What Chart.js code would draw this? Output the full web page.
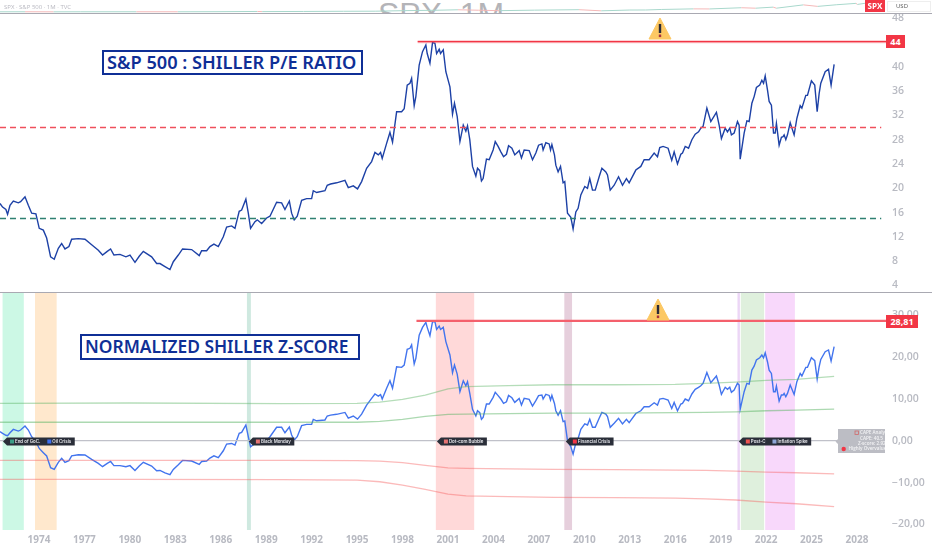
<!DOCTYPE html>
<html lang="en">
<head>
<meta charset="UTF-8">
<title>S&amp;P 500 Shiller P/E</title>
<script src="https://cdn.jsdelivr.net/npm/chart.js@4"></script>
<style>
    html, body { margin: 0; padding: 0; background: #fff; overflow: hidden; }
    #page { position: relative; width: 932px; height: 550px; font-family: "Open Sans", sans-serif; }
    canvas { position: absolute; left: 0; }
    .sep { position: absolute; left: 0; width: 932px; height: 1px; background: #a9a9b2; }
    .title { position: absolute; box-sizing: border-box; border: 2px solid #0f2f96; color: #0f2f96; background: #fff;
             font-family: "Noto Sans", sans-serif; font-weight: 600; white-space: nowrap; padding-left: 3px; }
    .price { position: absolute; background: #f23645; color: #fff; font-weight: 700; text-align: center; }
    .warn { position: absolute; width: 24px; height: 22px; }
    #symbol { position: absolute; left: 4px; top: 3px; font-size: 6px; color: #b8b8c0; white-space: nowrap; }
    #watermark { position: absolute; left: 378px; top: 0; width: 135px; height: 13px; overflow: hidden; }
    #watermark span { position: absolute; left: 0; top: -4px; font-family: "Liberation Sans"; font-size: 32px; line-height: 36px; color: #b4b4b8; white-space: nowrap; }
    #usd { position: absolute; left: 887px; top: 1px; width: 44px; height: 11px; box-sizing: border-box; border: 1px solid #eee; font-size: 6px; line-height: 9px; padding-left: 8px; color: #555; }
</style>
</head>
<body>
<div id="page">
    <div id="watermark"><span>SPX, 1M</span></div>
    <canvas id="priceChart" width="932" height="13" style="top:0"></canvas>
    <canvas id="capeChart" width="932" height="278" style="top:14px"></canvas>
    <canvas id="zChart" width="932" height="258" style="top:292px"></canvas>

    <div class="sep" style="top:13px"></div>
    <div class="sep" style="top:292px"></div>

    <div id="symbol">SPX · S&amp;P 500 · 1M · TVC</div>
    <div class="price" style="left:865px;top:0;width:20px;height:12px;font-size:8px;line-height:12px">SPX</div>
    <div id="usd">USD</div>

    <div class="title" style="left:102px;top:50px;width:261px;height:25px;font-size:18.2px;line-height:20px">S&amp;P 500 : SHILLER P/E RATIO</div>
    <div class="title" style="left:80px;top:334px;width:280px;height:26px;font-size:17.4px;line-height:21px">NORMALIZED SHILLER Z-SCORE</div>

    <div class="price" style="left:886px;top:35px;width:19px;height:13px;font-size:9px;line-height:13px">44</div>
    <div class="price" style="left:886px;top:315px;width:32px;height:13px;font-size:9px;line-height:13px">28,81</div>

    <svg class="warn" style="left:648px;top:18px" viewBox="0 0 24 22"><path d="M12 0 L23 21 L1 21 Z" fill="#fcc864" stroke="#fcc864" stroke-linejoin="round"/><rect x="10.8" y="6" width="2.4" height="9" fill="#2a2a38"/><rect x="10.8" y="16.5" width="2.4" height="2.6" fill="#a8323c"/></svg>
    <svg class="warn" style="left:646px;top:299px" viewBox="0 0 24 22"><path d="M12 0 L23 21 L1 21 Z" fill="#fcc864" stroke="#fcc864" stroke-linejoin="round"/><rect x="10.8" y="6" width="2.4" height="9" fill="#2a2a38"/><rect x="10.8" y="16.5" width="2.4" height="2.6" fill="#a8323c"/></svg>
</div>

<script>
    // time positions (decimal years)
    var years = [
        1971.43,1971.60,1971.82,1971.93,1972.09,1972.31,1972.64,1972.79,1973.08,1973.30,1973.52,1973.80,1974.02,1974.29,1974.51,1974.77,1975.01,1975.28,1975.50,1975.72,1975.98,
        1976.16,1976.60,1977.04,1977.48,1977.92,1978.20,1978.51,1978.73,1978.95,1979.35,1979.74,1980.01,1980.34,1980.62,1980.89,1981.44,1981.77,1981.99,1982.32,1982.65,1982.87,
        1983.20,1983.48,1984.08,1984.58,1984.74,1985.07,1985.29,1985.55,1985.84,1986.17,1986.39,1986.72,1986.94,1987.22,1987.38,1987.66,1987.82,1987.97,1988.26,1988.41,1988.70,
        1989.03,1989.25,1989.69,1990.02,1990.24,1990.53,1990.68,1990.85,1991.05,1991.34,1991.67,1992.00,1992.11,1992.33,1992.88,1993.03,1993.25,1993.65,1994.20,1994.42,1994.75,
        1995.03,1995.30,1995.63,1995.96,1996.18,1996.40,1996.55,1996.66,1996.95,1997.17,1997.34,1997.61,1997.94,1998.11,1998.31,1998.49,1998.60,1998.77,1998.88,1999.10,1999.32,
        1999.54,1999.63,1999.81,1999.98,2000.14,2000.25,2000.42,2000.51,2000.69,2000.86,2001.13,2001.30,2001.43,2001.61,2001.79,2002.01,2002.18,
        2002.29,2002.44,2002.62,2002.84,2002.95,2003.10,2003.21,2003.32,2003.54,2003.72,2003.98,2004.12,2004.31,2004.49,2004.67,2004.86,2005.00,2005.22,2005.41,2005.70,2005.85,
        2006.03,2006.36,2006.58,2006.80,2006.98,2007.20,2007.28,2007.46,2007.68,2007.77,2007.86,2008.03,2008.12,2008.27,2008.43,2008.60,2008.71,2008.89,2009.11,2009.26,2009.44,
        2009.59,2009.77,2010.03,2010.21,2010.36,2010.54,2010.72,2010.98,2011.16,2011.42,2011.53,2011.71,2011.97,2012.26,2012.52,2012.78,2012.96,2013.40,2013.73,2013.95,2014.28,
        2014.61,2014.83,2014.98,2015.20,2015.53,2015.77,2015.93,2016.15,2016.37,2016.48,2016.66,2016.88,2017.10,2017.32,2017.54,2017.69,2017.84,2018.09,2018.35,2018.72,2018.90,
        2019.05,2019.30,2019.45,2019.60,2019.71,2019.89,2020.11,2020.22,2020.29,2020.55,2020.73,2020.88,2021.06,2021.21,2021.36,2021.58,2021.72,2021.83,2021.94,2022.09,2022.20,
        2022.35,2022.49,2022.60,2022.68,2022.86,2023.01,2023.12,2023.19,2023.30,2023.41,2023.59,2023.85,2024.03,2024.25,2024.36,2024.62,2024.73,2024.99,2025.21,2025.37,2025.50,
        2025.61,2025.90,2026.12,2026.29,2026.49
    ];

    // Shiller P/E
    var cape = [
        17.5,16.9,16.5,15.7,17.2,17.9,17.6,17.8,18.6,17.2,15.9,15.8,13.4,13.1,11.8,8.7,8.3,10.1,10.9,10.0,10.4,
        11.6,11.7,11.6,10.7,9.8,9.0,9.6,10.0,9.0,9.1,8.7,9.0,7.8,8.8,9.6,8.7,7.6,7.6,7.1,6.6,7.9,
        9.0,10.0,9.9,8.9,9.7,9.7,10.4,10.8,10.4,12.0,13.6,13.8,13.4,16.2,16.4,18.2,15.9,13.4,14.5,14.8,14.2,
        15.1,15.4,17.7,17.6,16.5,17.9,15.9,14.8,15.4,18.0,18.3,18.3,19.6,19.3,19.6,20.5,20.7,20.9,21.3,20.1,20.4,
        19.9,21.1,23.3,24.4,25.9,25.5,25.9,24.9,27.4,29.2,27.6,32.6,32.6,33.1,37.0,37.3,38.1,33.6,35.1,40.3,42.5,
        43.6,42.2,40.6,44.0,43.9,42.2,42.9,42.2,42.8,39.2,36.7,32.2,34.0,31.8,27.7,30.4,29.4,
        30.3,28.0,23.6,22.0,23.3,22.9,21.2,21.6,24.8,24.7,26.3,27.7,26.9,26.0,25.2,25.6,27.0,26.6,25.5,26.2,25.0,
        26.3,26.2,24.7,25.8,27.1,27.3,26.3,27.5,27.3,26.3,27.2,25.5,23.8,22.7,23.6,20.9,21.1,15.9,15.2,13.3,16.1,
        16.7,18.9,20.3,20.0,21.6,19.7,19.7,21.9,23.3,22.7,22.2,19.7,20.5,21.9,20.5,21.6,20.9,23.0,23.6,24.7,24.7,
        25.8,25.2,26.7,26.9,26.6,24.6,26.0,24.0,25.6,25.8,26.9,26.6,28.0,28.9,29.3,29.9,30.2,33.2,31.0,32.5,30.4,
        28.2,29.9,29.3,29.9,28.8,29.1,31.0,30.4,24.8,29.1,31.1,31.0,34.0,35.1,36.6,37.0,37.8,37.3,38.5,36.2,34.3,
        33.7,29.1,29.1,30.7,27.1,28.4,28.5,28.8,28.0,28.8,30.8,28.8,31.5,33.6,33.2,35.3,35.3,37.7,37.0,32.6,35.6,
        37.3,39.2,39.6,37.0,40.4
    ];

    // normalized z-score
    var zscore = [
        2.15,1.75,1.3,1.2,1.9,2.7,2.3,2.55,3.5,2.55,0.95,-0.25,-1.85,-2.85,-3.65,-6.45,-6.85,-5.15,-4.2,-5.15,-4.75,
        -3.6,-3.35,-3.4,-4.45,-5.4,-6.2,-5.4,-4.95,-5.95,-5.95,-6.2,-5.95,-7.1,-6.05,-5.15,-6.05,-7.15,-7.1,-7.7,-8.1,-6.85,
        -5.75,-4.7,-4.85,-5.65,-4.95,-4.85,-4.15,-3.6,-4.05,-2.4,-0.8,-0.65,-1.05,1.75,2.0,3.75,0.95,-1.45,-0.65,-0.3,-0.8,
        0,0.95,3.2,3.2,1.9,3.25,1.35,0.15,0.95,3.6,3.9,3.9,5.1,4.75,4.95,5.9,6.1,6.3,6.75,5.4,5.9,
        5.15,6.35,8.5,10.1,11.15,10.65,11.0,9.95,12.5,14.3,12.5,17.65,17.5,18.05,21.8,22.05,22.85,18.3,19.65,25.2,27.05,
        28.25,27.05,25.05,28.4,28.4,26.55,27.35,26.55,27.05,23.65,20.45,16.25,18.05,15.9,11.7,14.3,13.1,
        14.1,11.3,7.5,5.9,7.15,6.7,5.1,5.55,8.75,8.75,10.35,11.55,10.75,9.95,8.9,9.3,10.8,10.25,9.15,10.1,8.5,
        10.1,9.85,8.25,9.55,10.75,10.9,9.95,11.05,10.8,9.7,10.8,8.9,7.15,6.1,7.15,4.55,4.7,0,-1.45,-3.2,-0.5,
        0.55,2.7,4.0,3.75,5.1,3.2,3.2,5.35,6.75,6.35,5.75,3.2,4.15,5.35,4.0,5.1,4.3,6.5,7.15,8.1,8.1,
        9.05,8.5,9.95,10.1,9.7,7.7,9.15,7.15,8.75,8.9,9.95,9.55,11.15,12.25,12.75,13.1,13.7,16.25,13.85,15.45,13.3,
        11.05,12.75,12.25,12.75,11.55,12.1,13.7,13.3,7.5,11.7,13.7,13.5,16.85,17.8,19.25,19.8,20.45,19.8,21.0,18.85,16.85,
        16.05,11.7,11.7,13.05,9.45,10.9,10.9,11.3,10.5,11.3,13.3,11.05,14.1,16.05,15.45,17.5,17.5,19.8,19.1,14.7,17.65,
        19.4,21.25,21.65,19.0,22.45
    ];

    // standard deviation bands of the z-score pane
    var bandYears = [1971.43,1980,1990,1995,1996.5,1998,1999.5,2001,2002.2,2005,2008,2012,2016,2018,2020,2022,2024,2026.49];
    var upperGreen = [8.9,9.0,8.85,8.9,9.2,9.85,10.9,12.35,12.9,13.15,13.35,13.35,13.45,13.7,14.0,14.4,14.65,15.35];
    var lowerGreen = [4.4,4.4,4.4,4.4,4.6,5.1,5.8,6.3,6.35,6.45,6.6,6.6,6.7,6.75,6.9,7.15,7.3,7.55];
    var upperRed = [-4.7,-4.7,-4.7,-4.75,-4.85,-5.25,-5.9,-6.5,-6.6,-6.7,-6.85,-6.9,-7.0,-7.1,-7.25,-7.5,-7.65,-7.9];
    var lowerRed = [-9.25,-9.25,-9.3,-9.4,-9.8,-10.6,-11.6,-12.75,-13.15,-13.35,-13.5,-13.6,-13.7,-13.9,-14.15,-14.65,-15.05,-15.75];

    // reference levels
    var overvalued = 30, undervalued = 15;
    var capePeak = 44.15, zPeak = 28.6, peakStart = 1999.0;

    // crisis shading
    var eventStart = [1971.6,1973.74,1987.73,2000.2,2008.68,2020.11,2020.33,2021.94];
    var eventEnd = [1973.0,1975.17,1987.99,2002.73,2009.19,2020.27,2021.87,2023.9];
    var eventColors = ['#ccf8e5','#ffe8cd','#cfe9e0','#ffd9d9','#e6cfdc','#ecd6f6','#dff0dd','#f8d8fb'];

    // event tags on the zero line
    var tagYears = [1971.63,1987.86,2000.27,2008.78,2020.2];
    var tagTexts = [['End of GoC.','Oil Crisis'],['Black Monday'],['Dot-com Bubble'],['Financial Crisis'],['Post-C','Inflation Spike']];
    var tagIcons = [['#3a9d86','#3d6ff0'],['#e57373'],['#e57373'],['#f23645'],['#ef5350','#8fa6d6']];

    // small price line in the strip above
    var priceYears = [1971.43,1973,1974.8,1976.5,1980,1982.6,1985,1987.6,1987.9,1990.5,1993,1995,1997,1998.7,2000.2,2001.5,2002.8,2005,2007.8,2009.2,2011,2012,2013,2015,2016,2018,2018.9,2020,2020.2,2021.9,2022.8,2024,2025.2,2025.3,2026.49];
    var priceValues = [100,118,70,105,115,110,170,320,230,320,450,500,900,1100,1450,1150,850,1200,1500,750,1280,1300,1650,2050,2000,2800,2500,3200,2500,4700,3700,4800,5700,5000,6900];

    // axes
    var xTicks = [1974,1977,1980,1983,1986,1989,1992,1995,1998,2001,2004,2007,2010,2013,2016,2019,2022,2025,2028];
    var capeTicks = [48,40,36,32,28,24,20,16,12,8,4];
    var zTicks = [30,20,10,0,-10,-20];
    var zTickLabels = ['30,00','20,00','10,00','0,00','\u221210,00','\u221220,00'];

    var xMin = 1971.43, xMax = 2029.98, tickGrey = '#b8bac2';

    function pts(xs, ys) { return xs.map(function(x, i) { return {x: x, y: ys[i]}; }); }
    function level(x0, x1, v) { return [{x: x0, y: v}, {x: x1, y: v}]; }
    function line(data, color, width, dash) {
        return {data: data, borderColor: color, borderWidth: width, borderDash: dash || [], pointRadius: 0, tension: 0, fill: false};
    }

    function baseOptions() {
        return {
            responsive: false,
            animation: false,
            events: [],
            layout: {padding: 0},
            plugins: {legend: {display: false}, tooltip: {enabled: false}},
            scales: {
                x: {type: 'linear', min: xMin, max: xMax, display: false},
                y: {position: 'right'}
            }
        };
    }

    function yAxis(min, max, ticks, labels) {
        return {
            position: 'right', min: min, max: max,
            grid: {display: false, drawTicks: false},
            border: {display: false},
            afterFit: function(s) { s.width = 45; s.paddingTop = 0; s.paddingBottom = 0; },
            afterBuildTicks: function(s) { s.ticks = ticks.map(function(v) { return {value: v}; }); },
            ticks: {
                color: tickGrey, padding: 5, autoSkip: false,
                font: {family: 'Open Sans', size: 10.5, weight: '600'},
                callback: function(v) { return labels ? labels[ticks.indexOf(v)] : v; }
            }
        };
    }

    // price strip
    var priceOpts = baseOptions();
    priceOpts.scales.y = {display: false, min: -700, max: 7950};
    new Chart(document.getElementById('priceChart'), {
        type: 'line',
        data: {datasets: [{
            data: pts(priceYears, priceValues), borderWidth: 1, pointRadius: 0, tension: 0, borderColor: '#a8d8cc',
            segment: {borderColor: function(c) { return c.p1.parsed.y >= c.p0.parsed.y ? '#a8d8cc' : '#f4b8b8'; }}
        }]},
        options: priceOpts
    });

    // shiller p/e pane
    var capeOpts = baseOptions();
    capeOpts.scales.y = yAxis(2.91, 48.71, capeTicks);
    new Chart(document.getElementById('capeChart'), {
        type: 'line',
        data: {datasets: [
            line(level(peakStart, xMax, capePeak), 'rgba(242,54,69,0.3)', 3),
            line(level(peakStart, xMax, capePeak), '#f23645', 1.2),
            line(level(xMin, 2029.6, overvalued), '#f0505c', 1.5, [6, 4]),
            line(level(xMin, 2029.6, undervalued), '#2f8072', 1.5, [6, 4]),
            line(pts(years, cape), '#1d41a6', 1.4)
        ]},
        options: capeOpts
    });

    // shaded periods behind the z-score
    var shading = {
        id: 'shading',
        beforeDatasetsDraw: function(chart) {
            var c = chart.ctx, a = chart.chartArea, xs = chart.scales.x;
            eventStart.forEach(function(s, i) {
                var x0 = xs.getPixelForValue(s), x1 = xs.getPixelForValue(eventEnd[i]);
                c.fillStyle = eventColors[i];
                c.fillRect(x0, a.top, x1 - x0, a.bottom - a.top);
            });
        }
    };

    // dark event tags and grey summary box
    var tags = {
        id: 'tags',
        afterDatasetsDraw: function(chart) {
            var c = chart.ctx, xs = chart.scales.x, y = chart.scales.y.getPixelForValue(0) + 0.8;
            c.save();
            c.textBaseline = 'middle';
            c.font = '600 4.4px Inter';
            tagYears.forEach(function(yr, i) {
                var tip = xs.getPixelForValue(yr), w = 7;
                tagTexts[i].forEach(function(t) { w += 5 + c.measureText(t).width + 7; });
                w -= 3.5;
                c.fillStyle = '#2a2e39';
                c.beginPath();
                c.moveTo(tip, y);
                c.lineTo(tip + 4, y - 4);
                c.lineTo(tip + w, y - 4);
                c.lineTo(tip + w, y + 4);
                c.lineTo(tip + 4, y + 4);
                c.closePath();
                c.fill();
                var x = tip + 7;
                tagTexts[i].forEach(function(t, k) {
                    c.fillStyle = tagIcons[i][k];
                    c.fillRect(x, y - 2, 4, 4);
                    c.fillStyle = '#e6e7ec';
                    c.fillText(t, x + 5, y);
                    x += 5 + c.measureText(t).width + 7;
                });
            });

            // summary box, its right side is cut by the axis
            var left = 838, top = y - 12.5, w = 47, h = 24;
            c.fillStyle = '#bcbdc4';
            c.beginPath();
            c.moveTo(left - 2.5, y);
            c.lineTo(left, y - 2.5);
            c.lineTo(left, top);
            c.lineTo(left + w, top);
            c.lineTo(left + w, top + h);
            c.lineTo(left, top + h);
            c.lineTo(left, y + 2.5);
            c.closePath();
            c.fill();
            c.beginPath();
            c.rect(left, top, w, h);
            c.clip();
            c.fillStyle = '#f3f3f5';
            c.font = '600 4.6px "Open Sans"';
            c.fillText('CAPE Analysis', 860, top + 4);
            c.fillText('CAPE: 40.5', 860, top + 9.5);
            c.fillText('Z-score: 2.92', 858, top + 14.5);
            c.fillText('Highly Overvalued', 848.5, top + 20);
            c.fillStyle = '#f23645';
            c.beginPath();
            c.arc(843.7, top + 20, 2.2, 0, Math.PI * 2);
            c.fill();
            c.strokeStyle = '#d06a6a';
            c.lineWidth = 0.8;
            c.strokeRect(855, top + 2, 3.5, 3.5);
            c.restore();
        }
    };

    // z-score pane
    var zOpts = baseOptions();
    zOpts.scales.x = {
        type: 'linear', min: xMin, max: xMax,
        grid: {display: false, drawTicks: false},
        border: {display: false},
        afterFit: function(s) { s.height = 20; s.paddingLeft = 0; s.paddingRight = 0; },
        afterBuildTicks: function(s) { s.ticks = xTicks.map(function(v) { return {value: v}; }); },
        ticks: {
            color: tickGrey, padding: 4, autoSkip: false, maxRotation: 0,
            font: {family: 'Open Sans', size: 10, weight: '700'},
            callback: function(v) { return String(v); }
        }
    };
    zOpts.scales.y = yAxis(-21.31, 35.49, zTicks, zTickLabels);
    new Chart(document.getElementById('zChart'), {
        type: 'line',
        data: {datasets: [
            line(level(xMin, 2026.7, 0), '#c0c1c9', 1.2),
            line(pts(bandYears, upperGreen), 'rgba(90,180,100,0.45)', 1.3),
            line(pts(bandYears, lowerGreen), 'rgba(90,180,100,0.5)', 1.3),
            line(pts(bandYears, upperRed), 'rgba(245,90,90,0.42)', 1.3),
            line(pts(bandYears, lowerRed), 'rgba(245,90,90,0.42)', 1.3),
            line(level(peakStart - 0.08, xMax, zPeak), '#f4606c', 2.2),
            line(pts(years, zscore), '#4274ee', 1.4)
        ]},
        options: zOpts,
        plugins: [shading, tags]
    });
</script>
</body>
</html>
